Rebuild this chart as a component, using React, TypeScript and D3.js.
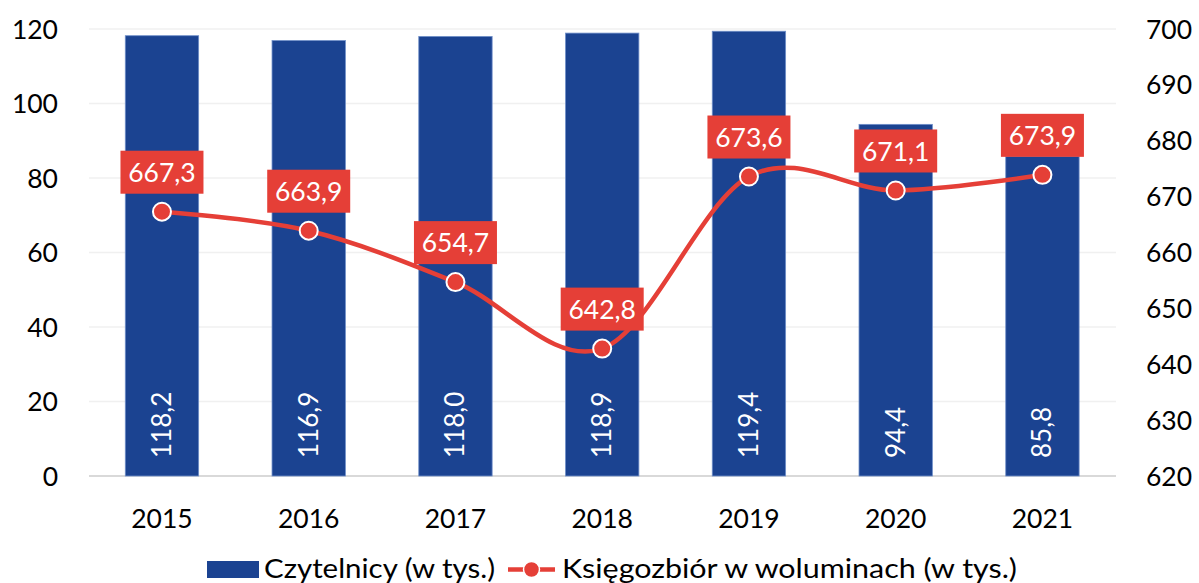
import React from "react";
import * as d3 from "d3";

const years = ["2015", "2016", "2017", "2018", "2019", "2020", "2021"];
const readers = [118.2, 116.9, 118.0, 118.9, 119.4, 94.4, 85.8];
const volumes = [667.3, 663.9, 654.7, 642.8, 673.6, 671.1, 673.9];
const leftTicks = [0, 20, 40, 60, 80, 100, 120];
const rightTicks = [620, 630, 640, 650, 660, 670, 680, 690, 700];
const seriesNames = ["Czytelnicy (w tys.)", "Księgozbiór w woluminach (w tys.)"];

const W = 1199;
const H = 583;
const BLUE = "#1B4391";
const RED = "#E53F37";
const FONT = "Lato, 'Open Sans', sans-serif";
const fmt = (v: number) => v.toFixed(1).replace(".", ",");

export default function App() {
  const x = d3.scaleBand<string>().domain(years).range([88.6, 1115.8]).paddingInner(0.5).paddingOuter(0.25);
  const yL = d3.scaleLinear().domain([0, 120]).range([476, 29]);
  const yR = d3.scaleLinear().domain([620, 700]).range([476, 29]);
  const cx = (y: string) => (x(y) as number) + x.bandwidth() / 2;

  const line = d3
    .line<number>()
    .x((_, i) => cx(years[i]))
    .y((d) => yR(d))
    .curve(d3.curveCatmullRom.alpha(0));

  return (
    <svg width={W} height={H} style={{ position: "absolute", left: 0, top: 0, background: "#fff" }} fontFamily={FONT}>
      {leftTicks.map((t) => (
        <line key={"g" + t} x1={89} x2={1116} y1={yL(t)} y2={yL(t)} stroke={t === 0 ? "#D9D9D9" : "#F0F0F0"} strokeWidth={t === 0 ? 2 : 1.5} />
      ))}
      {leftTicks.map((t) => (
        <text key={"l" + t} x={58} y={yL(t)} dy="0.36em" textAnchor="end" fontSize={26.5} fill="#000">
          {t}
        </text>
      ))}
      {rightTicks.map((t) => (
        <text key={"r" + t} x={1146} y={yR(t)} dy="0.36em" textAnchor="start" fontSize={26.5} fill="#000">
          {t}
        </text>
      ))}
      {years.map((yr) => (
        <text key={"x" + yr} x={cx(yr)} y={528} textAnchor="middle" fontSize={26.5} fill="#000">
          {yr}
        </text>
      ))}
      {readers.map((v, i) => (
        <rect key={"b" + i} x={x(years[i])} y={yL(v)} width={x.bandwidth()} height={yL(0) - yL(v)} fill={BLUE} stroke="#6F8FC9" strokeWidth={0.8} />
      ))}
      {readers.map((v, i) => (
        <text
          key={"bt" + i}
          transform={`translate(${cx(years[i]) + 9},${yL(0) - 18}) rotate(-90)`}
          textAnchor="start"
          fontSize={26}
          fill="#fff"
        >
          {fmt(v)}
        </text>
      ))}
      <path d={line(volumes) as string} fill="none" stroke={RED} strokeWidth={4.5} strokeLinecap="round" />
      {volumes.map((v, i) => (
        <circle key={"c" + i} cx={cx(years[i])} cy={yR(v)} r={9} fill={RED} stroke="#fff" strokeWidth={2} />
      ))}
      {volumes.map((v, i) => (
        <g key={"lb" + i}>
          <rect x={cx(years[i]) - 41.5} y={yR(v) - 18 - 43} width={83} height={43} fill={RED} />
          <text x={cx(years[i])} y={yR(v) - 18 - 21.5} dy="0.36em" textAnchor="middle" fontSize={26.5} fill="#fff">
            {fmt(v)}
          </text>
        </g>
      ))}
      {/* legend */}
      <rect x={207} y={561} width={52} height={17} fill={BLUE} />
      <text x={264} y={578} fontSize={27.5} fill="#000" textLength={231} lengthAdjust="spacingAndGlyphs">
        {seriesNames[0]}
      </text>
      <line x1={508} x2={555} y1={569.5} y2={569.5} stroke={RED} strokeWidth={4.5} />
      <circle cx={531.5} cy={569.5} r={8} fill={RED} stroke="#fff" strokeWidth={1.5} />
      <text x={562} y={578} fontSize={27.5} fill="#000" textLength={455} lengthAdjust="spacingAndGlyphs">
        {seriesNames[1]}
      </text>
    </svg>
  );
}
